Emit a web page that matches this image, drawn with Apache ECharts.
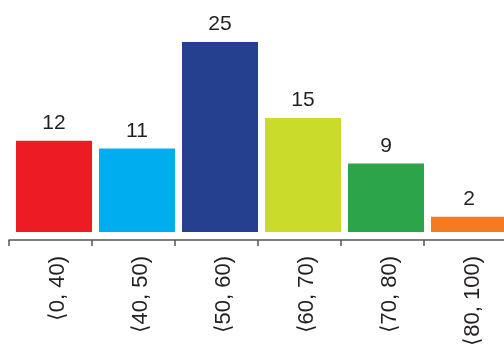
<!DOCTYPE html>
<html>
<head>
<meta charset="utf-8">
<script src="https://cdn.jsdelivr.net/npm/echarts@6/dist/echarts.min.js"></script>
<style>
  html, body { margin: 0; padding: 0; background: #fff; }
  #chart { width: 504px; height: 347px; }
</style>
</head>
<body>
<div id="chart"></div>
<script>
// Score bands and how many fall into each
const categories = ['⟨0, 40)', '⟨40, 50)', '⟨50, 60)', '⟨60, 70)', '⟨70, 80)', '⟨80, 100)'];
const counts = [12, 11, 25, 15, 9, 2];

// One colour per band
const barColors = ['#ED1C24', '#00AEEF', '#25408F', '#CBDB2A', '#2CA44A', '#F47B20'];

const FONT = "'Liberation Sans', Arial, Helvetica, sans-serif";
const TEXT = '#231f20';

const chart = echarts.init(document.getElementById('chart'), null, { renderer: 'canvas' });

const gridBase = { containLabel: false, outerBoundsMode: 'none' };

chart.setOption({
  animation: false,
  backgroundColor: '#ffffff',
  grid: [
    // axis line with boundary ticks
    Object.assign({ left: 9, width: 498, top: 0, height: 240 }, gridBase),
    // bars
    Object.assign({ left: 12.5, width: 498, top: 42, height: 190 }, gridBase),
    // rotated category labels
    Object.assign({ left: 16, width: 498, top: 0, height: 240 }, gridBase)
  ],
  xAxis: [
    {
      gridIndex: 0, type: 'category', data: categories, boundaryGap: true,
      axisLine: { show: true, lineStyle: { color: '#555', width: 1.5 } },
      axisTick: { show: true, length: 6, lineStyle: { color: '#555', width: 1.5 } },
      axisLabel: { show: false }
    },
    {
      gridIndex: 1, type: 'category', data: categories,
      axisLine: { show: false }, axisTick: { show: false }, axisLabel: { show: false }
    },
    {
      gridIndex: 2, type: 'category', data: categories,
      axisLine: { show: false }, axisTick: { show: false },
      axisLabel: {
        show: true, rotate: 90, margin: 16, interval: 0,
        fontSize: 22, fontFamily: FONT, color: TEXT
      }
    }
  ],
  yAxis: [
    { gridIndex: 0, type: 'value', show: false },
    { gridIndex: 1, type: 'value', min: 0, max: 25, show: false },
    { gridIndex: 2, type: 'value', show: false }
  ],
  series: [
    {
      type: 'bar',
      xAxisIndex: 1,
      yAxisIndex: 1,
      barCategoryGap: '8.4%',
      data: counts.map((v, i) => ({ value: v, itemStyle: { color: barColors[i] } })),
      label: {
        show: true, position: 'top', distance: 7,
        fontSize: 21, fontFamily: FONT, color: TEXT
      }
    }
  ]
});
</script>
</body>
</html>
